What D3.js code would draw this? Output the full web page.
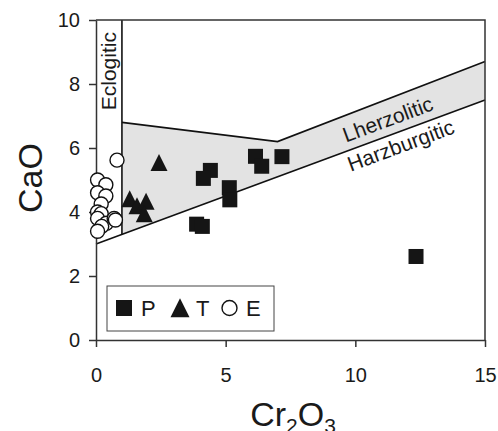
<!DOCTYPE html>
<html lang="en">
<head>
<meta charset="UTF-8">
<title>CaO vs Cr2O3</title>
<script src="https://cdn.jsdelivr.net/npm/d3@7"></script>
<style>
    body { margin: 0; background: #fff; }
    text { font-family: "Liberation Sans", Arial, sans-serif; fill: #1a1a1a; }
    .axis path, .axis line { stroke: #333; stroke-width: 1.5; }
    .axis text { font-size: 20px; }
</style>
</head>
<body>
<div id="chart"></div>
<script>
    // P (squares)
    var pX = [4.41, 4.14, 5.14, 5.16, 3.88, 4.10, 6.15, 6.39, 7.17, 12.34];
    var pY = [5.30, 5.05, 4.76, 4.38, 3.62, 3.55, 5.74, 5.43, 5.73, 2.61];
    // T (triangles)
    var tX = [2.43, 1.30, 1.58, 1.93, 1.86];
    var tY = [5.48, 4.35, 4.13, 4.27, 3.88];
    // E (open circles)
    var eX = [0.06, 0.38, 0.06, 0.38, 0.20, 0.06, 0.20, 0.06, 0.40, 0.70, 0.75, 0.22, 0.06, 0.81];
    var eY = [5.00, 4.85, 4.60, 4.50, 4.25, 4.00, 3.95, 3.80, 3.65, 3.80, 3.75, 3.55, 3.40, 5.62];

    var xTicks = [0, 5, 10, 15];
    var yTicks = [0, 2, 4, 6, 8, 10];

    // field boundaries
    var lowerLine = [[0, 3], [15, 7.5]];
    var upperLine = [[1, 6.8], [7, 6.2], [15, 8.7]];
    var eclogiteLine = [[1, 3.3], [1, 10]];
    var lherzField = [[1, 3.3], [1, 6.8], [7, 6.2], [15, 8.7], [15, 7.5]];

    var W = 498, H = 431;
    var margin = {top: 20, right: 13, bottom: 91, left: 96};
    var w = W - margin.left - margin.right,
        h = H - margin.top - margin.bottom;

    var svg = d3.select("#chart").append("svg")
        .attr("width", W)
        .attr("height", H);

    var g = svg.append("g")
        .attr("transform", "translate(" + margin.left + "," + margin.top + ")");

    var x = d3.scaleLinear().domain([0, 15]).range([0, w]);
    var y = d3.scaleLinear().domain([0, 10]).range([h, 0]);

    var line = d3.line()
        .x(function (d) { return x(d[0]); })
        .y(function (d) { return y(d[1]); });

    // shaded lherzolitic band
    g.append("path")
        .attr("d", line(lherzField) + "Z")
        .style("fill", "#e3e3e3")
        .style("stroke", "none");

    [lowerLine, upperLine, eclogiteLine].forEach(function (l) {
        g.append("path")
            .attr("d", line(l))
            .style("fill", "none")
            .style("stroke", "#111")
            .style("stroke-width", 1.6);
    });

    // frame top + right
    g.append("path")
        .attr("d", "M0,0H" + w + "V" + h)
        .style("fill", "none")
        .style("stroke", "#333")
        .style("stroke-width", 1.5);

    // axes
    g.append("g")
        .attr("class", "axis")
        .call(d3.axisLeft(y).tickValues(yTicks).tickSize(7).tickSizeOuter(0).tickPadding(9));

    g.append("g")
        .attr("class", "axis")
        .attr("transform", "translate(0," + h + ")")
        .call(d3.axisBottom(x).tickValues(xTicks).tickSize(7).tickSizeOuter(0).tickPadding(21));

    // field labels
    var slope = Math.atan2(y(0) - y(0.3), x(1) - x(0)) * 180 / Math.PI;

    g.append("text")
        .attr("transform", "translate(" + (x(1) - 5.5) + "," + y(8.4) + ") rotate(-90)")
        .attr("text-anchor", "middle")
        .style("font-size", "21px")
        .text("Eclogitic");

    g.append("text")
        .attr("transform", "translate(" + x(11.35) + "," + (y(3 + 0.3 * 11.35) - 9) + ") rotate(" + (-slope) + ")")
        .attr("text-anchor", "middle")
        .style("font-size", "21px")
        .text("Lherzolitic");

    g.append("text")
        .attr("transform", "translate(" + x(11.85) + "," + (y(3 + 0.3 * 11.85) + 22) + ") rotate(" + (-slope) + ")")
        .attr("text-anchor", "middle")
        .style("font-size", "21px")
        .text("Harzburgitic");

    // markers
    var sq = 15;
    var triPath = function (s) {
        return "M0," + (-s * 0.62) + "L" + (s / 2) + "," + (s * 0.38) + "L" + (-s / 2) + "," + (s * 0.38) + "Z";
    };

    g.selectAll(".e").data(d3.range(eX.length)).enter().append("circle")
        .attr("cx", function (i) { return x(eX[i]); })
        .attr("cy", function (i) { return y(eY[i]); })
        .attr("r", 7)
        .style("fill", "#fff")
        .style("stroke", "#111")
        .style("stroke-width", 1.4);

    g.selectAll(".t").data(d3.range(tX.length)).enter().append("path")
        .attr("transform", function (i) { return "translate(" + x(tX[i]) + "," + y(tY[i]) + ")"; })
        .attr("d", triPath(17))
        .style("fill", "#151515");

    g.selectAll(".p").data(d3.range(pX.length)).enter().append("rect")
        .attr("x", function (i) { return x(pX[i]) - sq / 2; })
        .attr("y", function (i) { return y(pY[i]) - sq / 2; })
        .attr("width", sq)
        .attr("height", sq)
        .style("fill", "#151515");

    // legend
    var lg = svg.append("g");
    lg.append("rect")
        .attr("x", 107).attr("y", 286)
        .attr("width", 167).attr("height", 45)
        .style("fill", "#fff")
        .style("stroke", "#444")
        .style("stroke-width", 1);
    lg.append("rect")
        .attr("x", 116).attr("y", 300)
        .attr("width", 16).attr("height", 16)
        .style("fill", "#151515");
    lg.append("text").attr("x", 141).attr("y", 316).style("font-size", "22px").text("P");
    lg.append("path")
        .attr("transform", "translate(180,310)")
        .attr("d", triPath(19))
        .style("fill", "#151515");
    lg.append("text").attr("x", 196).attr("y", 316).style("font-size", "22px").text("T");
    lg.append("circle")
        .attr("cx", 229.5).attr("cy", 308).attr("r", 7.5)
        .style("fill", "#fff")
        .style("stroke", "#111")
        .style("stroke-width", 1.4);
    lg.append("text").attr("x", 246).attr("y", 316).style("font-size", "22px").text("E");

    // axis titles
    svg.append("text")
        .attr("transform", "translate(42,178) rotate(-90)")
        .attr("text-anchor", "middle")
        .style("font-size", "34px")
        .text("CaO");

    var xt = svg.append("text")
        .attr("x", 293).attr("y", 426)
        .attr("text-anchor", "middle")
        .style("font-size", "34px");
    xt.append("tspan").text("Cr");
    xt.append("tspan").attr("dy", 7).style("font-size", "21px").text("2");
    xt.append("tspan").attr("dy", -7).text("O");
    xt.append("tspan").attr("dy", 7).style("font-size", "21px").text("3");
</script>
</body>
</html>
